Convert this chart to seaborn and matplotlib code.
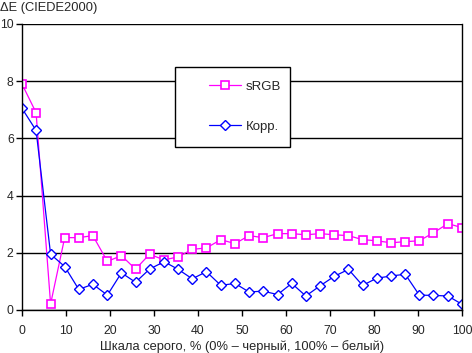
import seaborn as sns
import pandas as pd
import numpy as np
import matplotlib.pyplot as plt
from matplotlib.patches import Rectangle

# Grey level, % (32 steps)
gray = [0.0, 3.2, 6.5, 9.7, 12.9, 16.1, 19.4, 22.6, 25.8, 29.0, 32.3, 35.5,
        38.7, 41.9, 45.2, 48.4, 51.6, 54.8, 58.1, 61.3, 64.5, 67.7, 71.0, 74.2,
        77.4, 80.6, 83.9, 87.1, 90.3, 93.5, 96.8, 100.0]
srgb = [7.90, 6.90, 0.21, 2.53, 2.53, 2.60, 1.70, 1.90, 1.43, 1.95, 1.75, 1.86,
        2.12, 2.17, 2.46, 2.32, 2.60, 2.53, 2.67, 2.67, 2.63, 2.67, 2.63, 2.60,
        2.46, 2.42, 2.35, 2.39, 2.42, 2.70, 3.02, 2.88]
korr = [7.05, 6.28, 1.95, 1.52, 0.72, 0.90, 0.52, 1.30, 0.97, 1.43, 1.69, 1.42,
        1.09, 1.34, 0.86, 0.93, 0.63, 0.66, 0.54, 0.93, 0.49, 0.84, 1.18, 1.42,
        0.86, 1.11, 1.19, 1.25, 0.52, 0.51, 0.49, 0.20]

sns.set_style("white")
plt.rcParams['font.family'] = ['Liberation Sans', 'DejaVu Sans']
plt.rcParams['font.size'] = 9.3

fig = plt.figure(figsize=(4.72, 3.53), dpi=100)
ax = fig.add_axes([22 / 472, 43 / 353, 440 / 472, 286 / 353])

sns.lineplot(x=gray, y=srgb, ax=ax, color='#ff00ff', lw=0.9, marker='s',
             markersize=6, markerfacecolor='white', markeredgecolor='#ff00ff',
             markeredgewidth=1.2, label='sRGB')
sns.lineplot(x=gray, y=korr, ax=ax, color='#0000ff', lw=0.9, marker='D',
             markersize=5, markerfacecolor='white', markeredgecolor='#0000ff',
             markeredgewidth=1.0, label='Корр.')

ax.set_xlim(0, 100)
ax.set_ylim(0, 10)
ax.set_xticks(range(0, 101, 10))
ax.set_yticks(range(0, 11, 2))
ax.yaxis.grid(True, color='black', lw=1)
ax.set_axisbelow(True)
for s in ax.spines.values():
    s.set_color('black')
    s.set_linewidth(1)
ax.spines['top'].set_visible(False)
ax.tick_params(axis='both', direction='out', length=4, width=1, color='black',
               labelsize=8.8, left=True, bottom=True)
ax.tick_params(axis='x', pad=7)
ax.tick_params(axis='y', pad=2)
ax.set_xlabel('Шкала серого, % (0% – черный, 100% – белый)', fontsize=9.3, labelpad=2)
ax.set_ylabel('')
fig.text(0.0, 1 - 8 / 353, 'ΔE (CIEDE2000)', fontsize=9.3, va='center', ha='left')

# legend box
ax.add_patch(Rectangle((0.348, 0.57), 0.261, 0.28, transform=ax.transAxes,
                       facecolor='white', edgecolor='black', lw=1, zorder=5))
leg = ax.legend(loc='center left', bbox_to_anchor=(0.41, 0.71), frameon=False,
                handlelength=2.4, handletextpad=0.4, labelspacing=2.1,
                borderpad=0, fontsize=9.5)
leg.set_zorder(6)

fig.savefig('out.png', dpi=100)
